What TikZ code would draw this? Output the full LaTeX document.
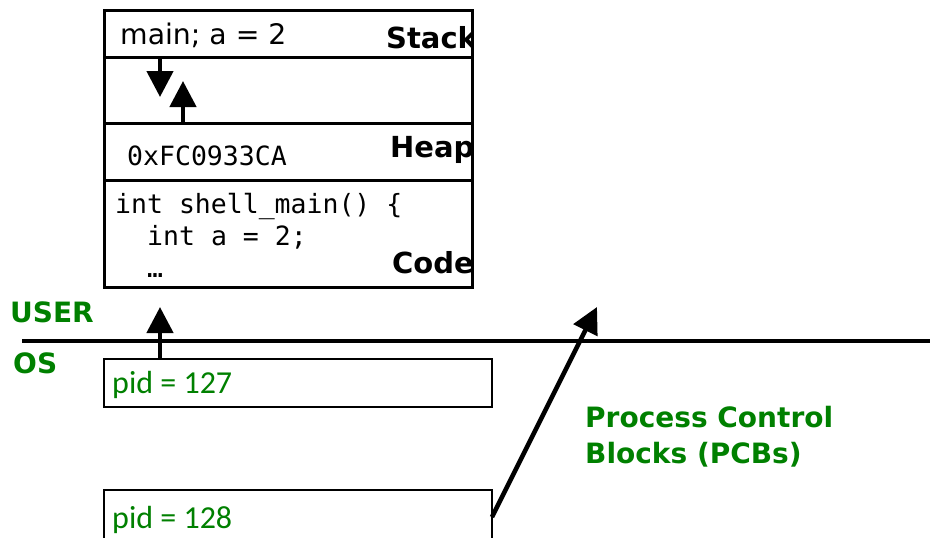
\documentclass[tikz,border=0pt]{standalone}
\usepackage{fontspec}
\setmainfont{DejaVu Sans}
\setmonofont{DejaVu Sans Mono}
\newfontfamily\pidfont{Carlito}
\usetikzlibrary{arrows.meta}
\definecolor{osgreen}{RGB}{0,128,0}
\tikzset{
  seg/.style={draw, line width=3pt, minimum width=368pt, inner sep=0pt, outer sep=0pt, anchor=north west},
  pcb/.style={draw, line width=2.5pt, minimum width=388pt, minimum height=48pt, inner sep=0pt, outer sep=0pt, anchor=north west},
  txt/.style={anchor=base west, inner sep=0pt},
  lbl/.style={txt, font=\fontsize{29}{32}\selectfont\bfseries},
  mono/.style={txt, font=\ttfamily\fontsize{26.5}{32}\selectfont},
  pidtxt/.style={txt, text=osgreen, font=\pidfont\fontsize{32}{36}\selectfont},
  tag/.style={txt, text=osgreen, font=\fontsize{28}{34}\selectfont\bfseries},
  arr/.style={line width=4.5pt, -{Triangle[length=26pt,width=26pt]}},
}
\begin{document}
\begin{tikzpicture}[x=1pt, y=-1pt]
  \useasboundingbox (0,0) rectangle (930,538);
  % address space
  \node[seg, minimum height=47pt] (stack) at (104,10) {};
  \node[seg, minimum height=66pt] (gap) at (104,57) {};
  \node[seg, minimum height=57pt] (heap) at (104,123) {};
  \node[seg, minimum height=107pt] (code) at (104,180) {};
  \node[txt, font=\fontsize{28.3}{32}\selectfont] (frame) at (120,45) {main; a = 2};
  \begin{scope}
    \clip (104,10) rectangle (472,287);
    \node[lbl] (stacklbl) at (386,48) {Stack};
    \node[lbl] (heaplbl) at (390,157) {Heap};
    \node[lbl] (codelbl) at (392,273) {Code};
  \end{scope}
  \node[mono] (addr) at (127,165) {0xFC0933CA};
  \node[mono] (line1) at (115,213) {int shell\_main() \{};
  \node[mono] (line2) at (147,245) {int a = 2;};
  \node[mono] (line3) at (147,277) {…};
  \coordinate (gapdown) at (160,97);
  \coordinate (gapup) at (183,81);
  \draw[arr] (stack.south -| gapdown) -- (gapdown);
  \draw[arr] (heap.north -| gapup) -- (gapup);
  % user / os boundary
  \coordinate (lineL) at (22,341);
  \coordinate (lineR) at (930,341);
  \draw[line width=4pt] (lineL) -- (lineR);
  \node[tag] (user) at (10,322) {USER};
  \node[tag] (os) at (13,373) {OS};
  % PCBs
  \node[pcb] (pcb1) at (104,359) {};
  \node[pcb, minimum height=54pt] (pcb2) at (104,490) {};
  \node[pidtxt] (pid1) at (112,393) {pid = 127};
  \node[pidtxt] (pid2) at (112,528) {pid = 128};
  \node[tag] (pcbname1) at (585,427) {Process Control};
  \node[tag] (pcbname2) at (585,463) {Blocks (PCBs)};
  \coordinate (usertip) at (160,307);
  \coordinate (pcbtip) at (597,307);
  \draw[arr] (pcb1.north -| usertip) -- (usertip);
  \draw[arr] (pcb2.east) -- (pcbtip);
\end{tikzpicture}
\end{document}
